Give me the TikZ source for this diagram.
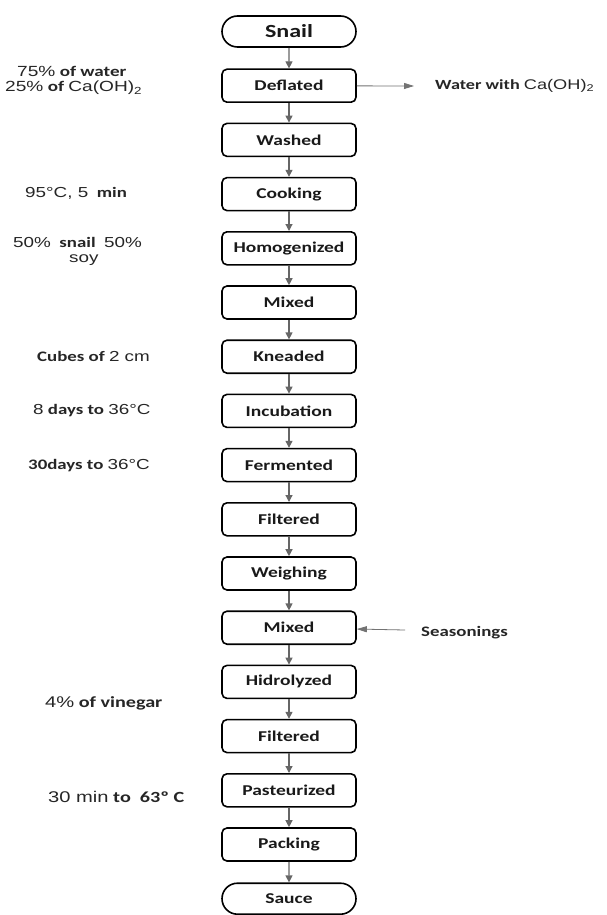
\documentclass[tikz,border=0pt]{standalone}
\usepackage{fontspec}
\setmainfont{Carlito}[FakeStretch=1.3]
\newfontfamily\arialf{Liberation Sans}[FakeStretch=1.3]
\usetikzlibrary{shapes.misc,arrows.meta}
\newcommand{\ar}[1]{{\arialf\mdseries #1}}
\newcommand{\cb}[1]{{\bfseries #1}}
\begin{document}
\begin{tikzpicture}[x=1pt,y=-1pt,
 box/.style={draw=black,line width=1.6pt,rounded corners=5pt,minimum width=134pt,minimum height=33pt,inner sep=0pt,font=\fontsize{15}{17}\selectfont\bfseries,text=black!90},
 term/.style={draw=black,line width=1.6pt,rounded rectangle,minimum width=134pt,minimum height=31pt,inner sep=0pt,font=\fontsize{15}{17}\selectfont\bfseries,text=black!90},
 flow/.style={draw=black!60,line width=1.2pt,-{Triangle[length=7pt,width=7pt]}},
 side/.style={draw=black!55,line width=0.8pt,-{Triangle[length=10pt,width=6pt]}},
 note/.style={anchor=west,inner sep=0pt,font=\fontsize{14.5}{15}\selectfont,text=black!85,align=left},
]
\useasboundingbox[fill=white] (0,0) rectangle (606,915);
\def\cx{289}
\node[term,font=\fontsize{18.5}{20}\selectfont\bfseries] (n0) at (\cx,31.5) {Snail};
\node[box] (n1) at (\cx,85.7) {Deflated};
\node[box] (n2) at (\cx,139.9) {Washed};
\node[box] (n3) at (\cx,194.1) {Cooking};
\node[box] (n4) at (\cx,248.3) {Homogenized};
\node[box] (n5) at (\cx,302.5) {Mixed};
\node[box] (n6) at (\cx,356.7) {Kneaded};
\node[box] (n7) at (\cx,410.9) {Incubation};
\node[box] (n8) at (\cx,465.1) {Fermented};
\node[box] (n9) at (\cx,519.3) {Filtered};
\node[box] (n10) at (\cx,573.5) {Weighing};
\node[box] (n11) at (\cx,627.7) {Mixed};
\node[box] (n12) at (\cx,681.9) {Hidrolyzed};
\node[box] (n13) at (\cx,736.1) {Filtered};
\node[box] (n14) at (\cx,790.3) {Pasteurized};
\node[box] (n15) at (\cx,844.5) {Packing};
\node[term] (n16) at (\cx,898.7) {Sauce};
\foreach \a/\b in {0/1,1/2,2/3,3/4,4/5,5/6,6/7,7/8,8/9,9/10,10/11,11/12,12/13,13/14,14/15,15/16}
  \draw[flow] (n\a) -- (n\b);
% side flows
\node[note,font=\fontsize{14}{15}\selectfont] (wout) at (435,86) {\cb{Water with} \ar{Ca(OH)\textsubscript{2}}};
\coordinate (wend) at (414,86);
\draw[side] (n1) -- (wend);
\node[note] (seas) at (421,633) {\cb{Seasonings}};
\coordinate (sstart) at (405,630);
\draw[side] (sstart) -- (n11);
% annotations
\node[note,font=\fontsize{14.7}{15}\selectfont] (a1) at (17,71.5) {\ar{75\%} \cb{of water}};
\node[note,font=\fontsize{14.7}{15}\selectfont] (a2) at (5,88) {\ar{25\%} \cb{of} \ar{Ca(OH)\textsubscript{2}}};
\node[note] (a3) at (25,193) {\ar{95°C, 5}\ \ \cb{min}};
\node[note] (a4) at (13,242) {\ar{50\%}\ \ \cb{snail}\ \ \ar{50\%}};
\node[note] (a5) at (69,260) {\ar{soy}};
\node[note] (a6) at (37,356) {\cb{Cubes of} \ar{2 cm}};
\node[note] (a7) at (33,411) {\ar{8} \cb{days to} \ar{36°C}};
\node[note] (a8) at (28,466) {\cb{30days to} \ar{36°C}};
\node[note,font=\fontsize{15.5}{16}\selectfont] (a9) at (45,703) {\ar{4\%} \cb{of vinegar}};
\node[note,font=\fontsize{15.5}{16}\selectfont] (a10) at (48,797) {\ar{30 min}\ \cb{to}\ \ \cb{63º C}};
\end{tikzpicture}
\end{document}
